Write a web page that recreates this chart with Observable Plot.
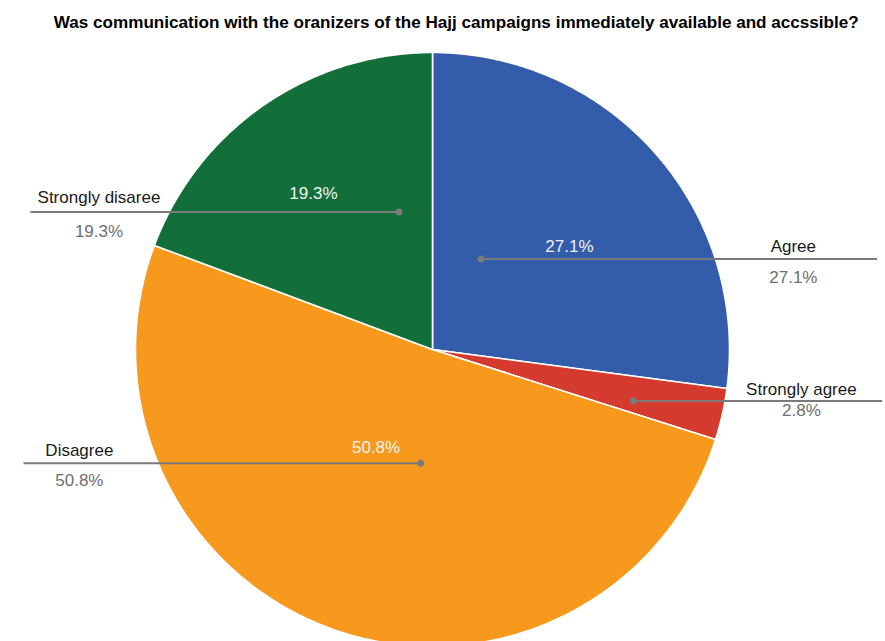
<!DOCTYPE html>
<html>
<head>
<meta charset="utf-8">
<script src="https://cdn.jsdelivr.net/npm/d3@7"></script>
<script src="https://cdn.jsdelivr.net/npm/@observablehq/plot@0.6"></script>
<style>
  html, body { margin: 0; padding: 0; background: #fff; }
  #chart { width: 885px; height: 641px; overflow: hidden; }
  svg { display: block; }
</style>
</head>
<body>
<div id="chart"></div>
<script>
// ---- data ----
const categories = ["Agree", "Strongly agree", "Disagree", "Strongly disagree"];
const labelTexts = ["Agree", "Strongly agree", "Disagree", "Strongly disaree"];
const values = [27.1, 2.8, 50.8, 19.3];
const title = "Was communication with the oranizers of the Hajj campaigns immediately available and accssible?";

// ---- style / layout (not data) ----
const colors = ["#335cab", "#d43a2d", "#f7991d", "#126f3a"];
// leader layout in radius units relative to pie center
const dotX   = [0.163, 0.676, -0.040, -0.113];
const lineY  = [0.305, -0.173, -0.383, 0.463];
const lineEnd = [1.497, 1.514, -1.377, -1.354];
const labelX = [1.215, 1.242, -1.189, -1.123];
const innerX = [0.461, null, -0.190, -0.401];
const nameDy = [-12, -11, -13, -14];
const valueDy = [19, 10, 17, 20];
const innerDy = [-12, 0, -16, -18];

// ---- pie geometry from values ----
const pie = d3.pie().sort(null).value(d => d)(values);
const fmt = v => v.toFixed(1) + "%";

const sliceMarks = pie.map((p, i) => {
  const pts = [{x: 0, y: 0}];
  const n = Math.max(8, Math.ceil((p.endAngle - p.startAngle) / 0.01));
  for (let k = 0; k <= n; k++) {
    const a = p.startAngle + (p.endAngle - p.startAngle) * k / n;
    pts.push({x: Math.sin(a), y: Math.cos(a)});
  }
  pts.push({x: 0, y: 0});
  return Plot.line(pts, {x: "x", y: "y", fill: colors[i], stroke: "white", strokeWidth: 1.6, strokeLinejoin: "round"});
});

const rows = categories.map((c, i) => ({
  category: c, label: labelTexts[i], value: values[i],
  dx: dotX[i], ly: lineY[i], ex: lineEnd[i], lx: labelX[i], ix: innerX[i],
  ndy: nameDy[i], vdy: valueDy[i], idy: innerDy[i]
}));

const leaderMarks = rows.flatMap(r => [
  Plot.link([r], {x1: "dx", y1: "ly", x2: "ex", y2: "ly", stroke: "#7a7a7a", strokeWidth: 2}),
  Plot.dot([r], {x: "dx", y: "ly", r: 3.5, fill: "#7a7a7a", stroke: "none"}),
  Plot.text([r], {x: "lx", y: "ly", text: "label", dy: r.ndy, fill: "#1a1a1a", fontSize: 17, textAnchor: "middle"}),
  Plot.text([r], {x: "lx", y: "ly", text: d => fmt(d.value), dy: r.vdy, fill: "#6e6e6e", fontSize: 17, textAnchor: "middle"}),
  ...(r.ix == null ? [] : [
    Plot.text([r], {x: "ix", y: "ly", text: d => fmt(d.value), dy: r.idy, fill: "#f2f2f2", fontSize: 17, textAnchor: "middle"})
  ])
]);

const chart = Plot.plot({
  width: 885,
  height: 641,
  margin: 0,
  style: {fontFamily: "'Liberation Sans', Arial, sans-serif", background: "white"},
  x: {type: "linear", domain: [-1, 1], range: [135, 729], axis: null},
  y: {type: "linear", domain: [-1, 1], range: [646, 52], axis: null},
  marks: [
    ...sliceMarks,
    ...leaderMarks,
    Plot.text([title], {frameAnchor: "top", x: 0.08, dy: 22, text: d => d, fontSize: 17.1, fontWeight: "bold", fill: "#000", textAnchor: "middle", lineAnchor: "middle"})
  ]
});
document.getElementById("chart").appendChild(chart);
</script>
</body>
</html>
